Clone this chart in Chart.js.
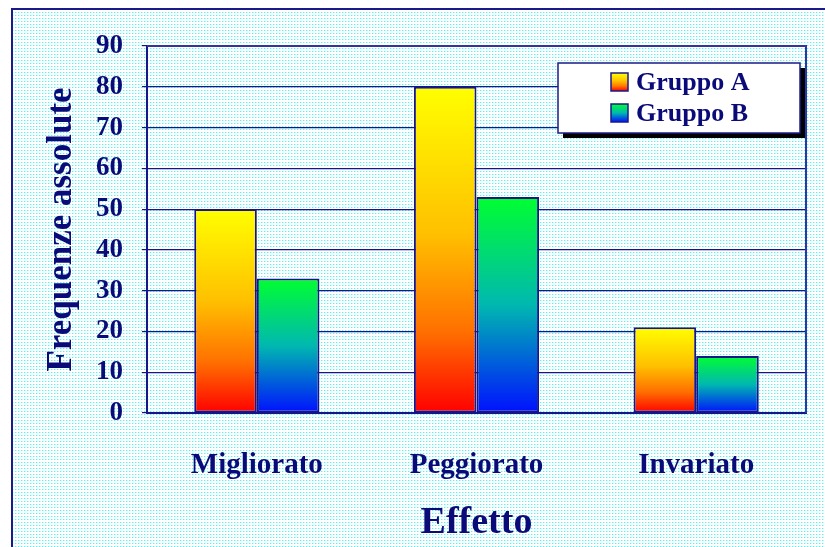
<!DOCTYPE html>
<html>
<head>
<meta charset="utf-8">
<script src="https://cdn.jsdelivr.net/npm/chart.js@4.4.1/dist/chart.umd.min.js"></script>
<style>
  html, body { margin: 0; padding: 0; background: #ffffff; }
  #wrap { width: 825px; height: 547px; }
</style>
</head>
<body>
<div id="wrap"><canvas id="c" width="825" height="547"></canvas></div>
<script>
// Categories and values
const categories = ['Migliorato', 'Peggiorato', 'Invariato'];
const seriesNames = ['Gruppo A', 'Gruppo B'];
const gruppoA = [50, 80, 21];
const gruppoB = [33, 53, 14];
const yTicks = [0, 10, 20, 30, 40, 50, 60, 70, 80, 90];

const NAVY = '#0a0a78';
const SERIF = '"Liberation Serif", "Times New Roman", serif';

// Vertical gradient stops per series (top -> bottom of each bar)
const gradStops = [
  [[0, '#ffff00'], [0.45, '#ffc000'], [0.75, '#ff7000'], [1, '#ff0000']],
  [[0, '#00ff30'], [0.5, '#00b8b0'], [1, '#0010ff']]
];

function fillGradient(ctx2d, stops, top, bottom) {
  const g = ctx2d.createLinearGradient(0, top, 0, bottom);
  stops.forEach(s => g.addColorStop(s[0], s[1]));
  return g;
}

function barColor(seriesIdx) {
  return function (context) {
    const chart = context.chart;
    if (!chart.chartArea || context.type !== 'data') return gradStops[seriesIdx][0][1];
    const y = chart.scales.y;
    const top = y.getPixelForValue(context.raw);
    const bottom = y.getPixelForValue(0);
    return fillGradient(chart.ctx, gradStops[seriesIdx], top, bottom);
  };
}

// Light cyan dotted backdrop tile
function dotPattern(ctx2d) {
  const t = document.createElement('canvas');
  t.width = 3; t.height = 3;
  const c = t.getContext('2d');
  c.fillStyle = '#ffffff'; c.fillRect(0, 0, 3, 3);
  c.fillStyle = '#50f4f4'; c.fillRect(0, 0, 1, 1);
  c.fillStyle = '#c4fafa'; c.fillRect(1, 0, 1, 1);
  return ctx2d.createPattern(t, 'repeat');
}

const framePlugin = {
  id: 'frame',
  beforeDraw(chart) {
    const ctx = chart.ctx;
    ctx.save();
    ctx.fillStyle = '#ffffff';
    ctx.fillRect(0, 0, chart.width, chart.height);
    ctx.fillStyle = dotPattern(ctx);
    ctx.fillRect(12, 9, chart.width - 12, chart.height - 9);
    ctx.strokeStyle = '#1a1a8a';
    ctx.lineWidth = 2;
    ctx.beginPath();
    ctx.moveTo(12, chart.height);
    ctx.lineTo(12, 9);
    ctx.lineTo(chart.width, 9);
    ctx.stroke();
    ctx.restore();
  },
  afterDatasetsDraw(chart) {
    // top and right edges of the plot frame
    const {ctx, chartArea: a} = chart;
    ctx.save();
    ctx.strokeStyle = '#3434a0';
    ctx.lineWidth = 2;
    ctx.beginPath();
    ctx.moveTo(a.left, a.top);
    ctx.lineTo(a.right, a.top);
    ctx.lineTo(a.right, a.bottom);
    ctx.stroke();
    ctx.restore();
  }
};

const legendBoxPlugin = {
  id: 'legendBox',
  afterDraw(chart) {
    const ctx = chart.ctx;
    const x = 558, y = 63, w = 242, h = 70;
    ctx.save();
    ctx.fillStyle = '#000000';
    ctx.fillRect(x + 5, y + 5, w, h);
    ctx.fillStyle = '#ffffff';
    ctx.fillRect(x, y, w, h);
    ctx.strokeStyle = '#1a1a8a';
    ctx.lineWidth = 1.5;
    ctx.strokeRect(x, y, w, h);
    chart.data.datasets.forEach((ds, i) => {
      const cy = 82 + i * 31;
      const sx = 611, sy = cy - 9, sw = 17, sh = 18;
      ctx.fillStyle = fillGradient(ctx, gradStops[i], sy, sy + sh);
      ctx.fillRect(sx, sy, sw, sh);
      ctx.strokeStyle = '#1a1a8a';
      ctx.lineWidth = 1.5;
      ctx.strokeRect(sx, sy, sw, sh);
      ctx.fillStyle = NAVY;
      ctx.font = 'bold 26px ' + SERIF;
      ctx.textAlign = 'left';
      ctx.textBaseline = 'middle';
      ctx.fillText(ds.label, 636, cy + 1);
    });
    ctx.restore();
  }
};

new Chart(document.getElementById('c'), {
  type: 'bar',
  data: {
    labels: categories,
    datasets: [
      { label: seriesNames[0], data: gruppoA, backgroundColor: barColor(0),
        borderColor: '#16168a', borderWidth: 2, borderSkipped: false },
      { label: seriesNames[1], data: gruppoB, backgroundColor: barColor(1),
        borderColor: '#16168a', borderWidth: 2, borderSkipped: false }
    ]
  },
  options: {
    responsive: false,
    animation: false,
    devicePixelRatio: 1,
    layout: { padding: { left: 0, top: 46, right: 19, bottom: 0 } },
    datasets: { bar: { categoryPercentage: 0.57, barPercentage: 1.0 } },
    plugins: { legend: { display: false }, tooltip: { enabled: false } },
    scales: {
      x: {
        grid: { display: false },
        border: { display: true, color: '#16168a', width: 2 },
        ticks: { color: NAVY, padding: 27, font: { family: SERIF, size: 29, weight: 'bold' } },
        title: { display: true, text: 'Effetto', color: NAVY,
                 padding: { top: 0, bottom: 1 },
                 font: { family: SERIF, size: 38, weight: 'bold' } },
        afterFit(scale) { scale.height = 134; }
      },
      y: {
        min: 0, max: 90,
        afterBuildTicks(scale) { scale.ticks = yTicks.map(v => ({ value: v })); },
        grid: { color: '#16168a', lineWidth: 1.2, tickLength: 5, tickColor: '#16168a' },
        border: { display: true, color: '#16168a', width: 2 },
        ticks: { color: NAVY, padding: 19, font: { family: SERIF, size: 27, weight: 'bold' } },
        title: { display: true, text: 'Frequenze assolute', color: NAVY,
                 padding: { top: 41, bottom: 0 },
                 font: { family: SERIF, size: 35, weight: 'bold' } },
        afterFit(scale) { scale.width = 147; }
      }
    }
  },
  plugins: [framePlugin, legendBoxPlugin]
});
</script>
</body>
</html>
